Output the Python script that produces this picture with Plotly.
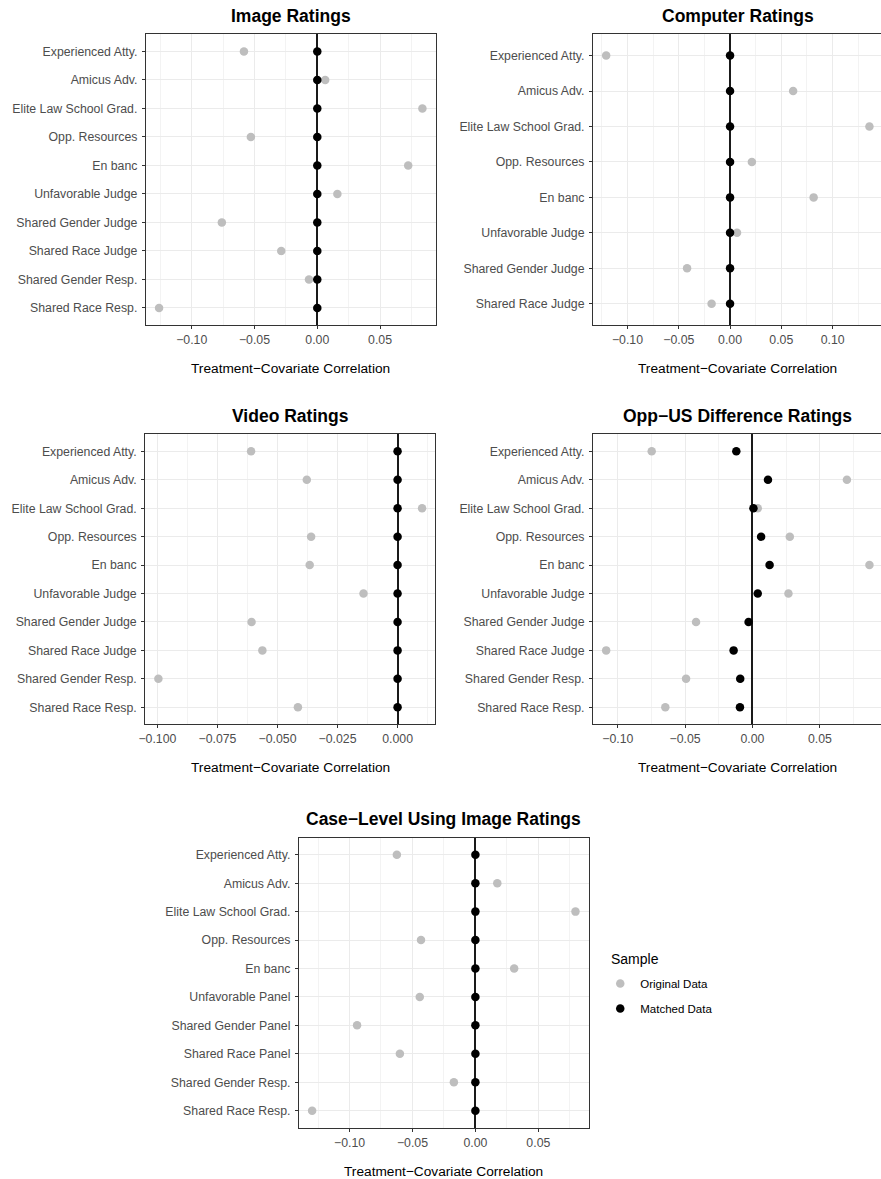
import plotly.graph_objects as go

W, H = 881, 1179
FONT = "Liberation Sans, Arial, Helvetica, sans-serif"

# ---------------- data ----------------
cats_main = ["Experienced Atty.", "Amicus Adv.", "Elite Law School Grad.", "Opp. Resources",
             "En banc", "Unfavorable Judge", "Shared Gender Judge", "Shared Race Judge",
             "Shared Gender Resp.", "Shared Race Resp."]
cats_computer = ["Experienced Atty.", "Amicus Adv.", "Elite Law School Grad.", "Opp. Resources",
                 "En banc", "Unfavorable Judge", "Shared Gender Judge", "Shared Race Judge"]
cats_case = ["Experienced Atty.", "Amicus Adv.", "Elite Law School Grad.", "Opp. Resources",
             "En banc", "Unfavorable Panel", "Shared Gender Panel", "Shared Race Panel",
             "Shared Gender Resp.", "Shared Race Resp."]

image_orig = [-0.0584, 0.0063, 0.0837, -0.0529, 0.0724, 0.0160, -0.0760, -0.0287, -0.0066, -0.1260]
image_matched = [0.0, 0.0, 0.0, 0.0, 0.0, 0.0, 0.0, 0.0, 0.0, 0.0]

computer_orig = [-0.1208, 0.0615, 0.1359, 0.0213, 0.0815, 0.0068, -0.0419, -0.0180]
computer_matched = [0.0, 0.0, 0.0, 0.0, 0.0, 0.0, 0.0, 0.0]

video_orig = [-0.0610, -0.0378, 0.0102, -0.0360, -0.0366, -0.0142, -0.0608, -0.0563, -0.0996, -0.0415]
video_matched = [0.0, 0.0, 0.0, 0.0, 0.0, 0.0, 0.0, 0.0, 0.0, 0.0]

oppus_orig = [-0.0748, 0.0701, 0.0039, 0.0277, 0.0868, 0.0267, -0.0419, -0.1086, -0.0493, -0.0647]
oppus_matched = [-0.0120, 0.0115, 0.0007, 0.0064, 0.0127, 0.0039, -0.0029, -0.0140, -0.0091, -0.0093]

case_orig = [-0.0624, 0.0174, 0.0795, -0.0432, 0.0308, -0.0442, -0.0940, -0.0600, -0.0171, -0.1297]
case_matched = [0.0, 0.0, 0.0, 0.0, 0.0, 0.0, 0.0, 0.0, 0.0, 0.0]

series_names = ["Original Data", "Matched Data"]
series_colors = ["#BEBEBE", "#000000"]
legend_title = "Sample"
axis_title = "Treatment\u2212Covariate Correlation"

panels = [
    dict(title="Image Ratings", cats=cats_main, orig=image_orig, matched=image_matched,
         box=(140.0, 34.3, 432.0, 325.0), dtick=0.05, fmt=".2f"),
    dict(title="Computer Ratings", cats=cats_computer, orig=computer_orig, matched=computer_matched,
         box=(590.7, 34.3, 882.6, 325.0), dtick=0.05, fmt=".2f"),
    dict(title="Video Ratings", cats=cats_main, orig=video_orig, matched=video_matched,
         box=(139.3, 434.3, 431.7, 724.3), dtick=0.025, fmt=".3f"),
    dict(title="Opp\u2212US Difference Ratings", cats=cats_main, orig=oppus_orig, matched=oppus_matched,
         box=(590.7, 434.3, 882.6, 724.3), dtick=0.05, fmt=".2f"),
    dict(title="Case\u2212Level Using Image Ratings", cats=cats_case, orig=case_orig, matched=case_matched,
         box=(294.3, 837.7, 586.3, 1127.7), dtick=0.05, fmt=".2f"),
]

fig = go.Figure()
annotations = []
layout = {}

for i, p in enumerate(panels):
    k = "" if i == 0 else str(i + 1)
    xa, ya = "x" + k, "y" + k
    left, top, right, bottom = p["box"]
    vals = p["orig"] + p["matched"] + [0.0]
    lo, hi = min(vals), max(vals)
    span = hi - lo
    lo, hi = lo - 0.05 * span, hi + 0.05 * span
    # the reference crops the right-hand panels at the page edge
    cropped = right > W
    if cropped:
        hi = lo + (W - left) / (right - left) * (hi - lo)
        right_d = W
    else:
        right_d = right
    n = len(p["cats"])

    for vals_s, name, col in zip([p["orig"], p["matched"]], series_names, series_colors):
        fig.add_trace(go.Scatter(
            x=vals_s, y=p["cats"], mode="markers", name=name,
            marker=dict(color=col, size=8.5, line=dict(width=0)),
            xaxis=xa, yaxis=ya, legendgroup=name, showlegend=(i == 0),
        ))

    layout["xaxis" + k] = dict(
        domain=[left / W, right_d / W], anchor=ya, range=[lo, hi],
        dtick=p["dtick"], tick0=0, tickformat=p["fmt"],
        showgrid=True, gridcolor="#EBEBEB", gridwidth=1.1,
        minor=dict(dtick=p["dtick"] / 2, tick0=0, showgrid=True, gridcolor="#F3F3F3", gridwidth=0.6),
        zeroline=True, zerolinecolor="#1A1A1A", zerolinewidth=1.5,
        showline=True, mirror=True, linecolor="#333333", linewidth=1.1,
        ticks="outside", ticklen=3, tickwidth=1.1, tickcolor="#333333",
        tickfont=dict(family=FONT, size=12.3, color="#4D4D4D"),
        fixedrange=True,
    )
    layout["yaxis" + k] = dict(
        domain=[1 - bottom / H, 1 - top / H], anchor=xa,
        type="category", categoryorder="array", categoryarray=p["cats"],
        range=[n - 0.4, -0.6],
        showgrid=True, gridcolor="#EBEBEB", gridwidth=1.1,
        zeroline=False,
        showline=True, mirror=(not cropped), linecolor="#333333", linewidth=1.1,
        ticks="outside", ticklen=3, tickwidth=1.1, tickcolor="#333333",
        tickfont=dict(family=FONT, size=12.3, color="#4D4D4D"),
        ticklabelstandoff=2,
        fixedrange=True,
    )
    cx = (left + right) / 2 / W
    annotations.append(dict(
        text="<b>" + p["title"] + "</b>", x=cx, y=1 - (top - 18.5) / H,
        xref="paper", yref="paper", xanchor="center", yanchor="middle", showarrow=False,
        font=dict(family=FONT, size=17.5, color="#000000"),
    ))
    annotations.append(dict(
        text=axis_title, x=cx, y=1 - (bottom + 43.5) / H,
        xref="paper", yref="paper", xanchor="center", yanchor="middle", showarrow=False,
        font=dict(family=FONT, size=13.7, color="#000000"),
    ))

# legend title
annotations.append(dict(
    text=legend_title, x=607 / W, y=1 - 959 / H,
    xref="paper", yref="paper", xanchor="left", yanchor="middle", showarrow=False,
    font=dict(family=FONT, size=14, color="#000000"),
))

fig.update_layout(
    width=W, height=H,
    margin=dict(l=0, r=0, t=0, b=0),
    paper_bgcolor="white", plot_bgcolor="white",
    annotations=annotations,
    showlegend=True,
    hovermode=False,
    legend=dict(
        font=dict(family=FONT, size=11.5, color="#000000"),
        x=598 / W, y=1 - 969 / H, xanchor="left", yanchor="top",
        traceorder="grouped", tracegroupgap=6,
        bgcolor="rgba(0,0,0,0)", borderwidth=0,
    ),
    **layout,
)

fig.write_html(
    "out.html",
    config={"displayModeBar": False},
    post_script="document.body.style.margin='0';document.body.style.overflow='hidden';",
)
